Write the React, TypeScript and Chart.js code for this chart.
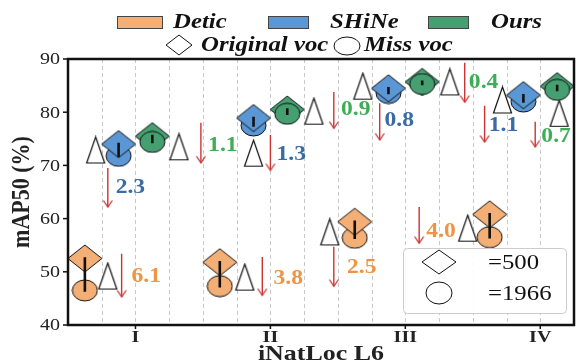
import React, { useEffect, useRef } from 'react';
import { Chart, registerables } from 'chart.js';

Chart.register(...registerables);

// ---------------- data ----------------
const categories = ['I', 'II', 'III', 'IV'];
const categoryPos = [4, 8, 12, 16];
const methods = ['Detic', 'SHiNe', 'Ours'];
const methodOffset = [-1.5, -0.5, 0.5];

// mAP50 with original vocabulary (diamond) and with missing vocabulary (circle)
const deticOriginal = [52.5, 51.8, 59.4, 60.8];
const deticMiss = [46.5, 47.3, 56.4, 56.5];
const shineOriginal = [74.0, 78.9, 84.5, 83.2];
const shineMiss = [71.8, 77.5, 83.6, 82.0];
const oursOriginal = [75.5, 80.5, 85.7, 84.9];
const oursMiss = [74.4, 79.7, 85.3, 84.2];

// drop labels
const deticDrop = ['6.1', '3.8', '2.5', '4.0'];
const shineDrop = ['2.3', '1.3', '0.8', '1.1'];
const oursDrop = ['1.1', '0.9', '0.4', '0.7'];

// triangle markers (x in axis units, y in mAP50)
const deticTriX = [3.18, 7.24, 9.76, 13.85];
const deticTriY = [49.2, 49.0, 57.5, 58.2];
const shineTriX = [2.82, 7.5, 10.74, 14.88];
const shineTriY = [72.9, 72.3, 84.9, 82.3];
const oursTriX = [5.29, 9.29, 13.32, 16.56];
const oursTriY = [73.5, 80.2, 85.7, 79.8];

// red arrows
const deticArrowX = [3.59, 7.76, 9.88, 12.41];
const deticArrowTop = [53.4, 52.8, 54.7, 62.2];
const deticArrowBottom = [45.3, 45.6, 47.3, 55.4];
const shineArrowX = [3.18, 8.0, 11.24, 14.35];
const shineArrowTop = [69.5, 75.7, 81.7, 81.2];
const shineArrowBottom = [62.2, 69.1, 74.8, 74.4];
const oursArrowX = [5.94, 9.88, 13.76, 15.85];
const oursArrowTop = [78.0, 83.8, 89.3, 78.2];
const oursArrowBottom = [70.5, 77.0, 81.9, 73.5];

// drop label anchors
const deticLabelX = [4.32, 8.53, 10.71, 13.06];
const deticLabelY = [49.0, 48.6, 50.7, 57.5];
const shineLabelX = [3.85, 8.62, 11.82, 14.91];
const shineLabelY = [65.8, 72.0, 78.4, 77.4];
const oursLabelX = [6.59, 10.53, 14.32, 16.47];
const oursLabelY = [73.7, 80.4, 85.5, 75.3];

const yTicks = [40, 50, 60, 70, 80, 90];

// ---------------- styles ----------------
const fillColors = ['#F3AF75', '#5B97D4', '#469F71'];
const textColors = ['#EE9442', '#3A6CA3', '#3DAE55'];
const arrowColor = '#CC3333';
const SERIF = '"Liberation Serif", "Times New Roman", serif';
const STRETCH = 1.18;

function makeCanvas(w: number, h: number) {
  const c = document.createElement('canvas');
  c.width = w;
  c.height = h;
  return c;
}

function diamondImg(fill: string) {
  const w = 34, h = 27;
  const c = makeCanvas(w + 2, h + 2);
  const g = c.getContext('2d')!;
  g.beginPath();
  g.moveTo(1 + w / 2, 1);
  g.lineTo(1 + w, 1 + h / 2);
  g.lineTo(1 + w / 2, 1 + h);
  g.lineTo(1, 1 + h / 2);
  g.closePath();
  g.fillStyle = fill;
  g.fill();
  g.strokeStyle = '#111';
  g.lineWidth = 1;
  g.stroke();
  return c;
}

function ellipseImg(fill: string) {
  const w = 25, h = 21;
  const c = makeCanvas(w + 2, h + 2);
  const g = c.getContext('2d')!;
  g.beginPath();
  g.ellipse(1 + w / 2, 1 + h / 2, w / 2, h / 2, 0, 0, Math.PI * 2);
  g.fillStyle = fill;
  g.fill();
  g.strokeStyle = '#111';
  g.lineWidth = 1;
  g.stroke();
  return c;
}

function triangleImg() {
  const w = 18, h = 26;
  const c = makeCanvas(w + 3, h + 3);
  const g = c.getContext('2d')!;
  g.beginPath();
  g.moveTo(1.5 + w / 2, 1.5);
  g.lineTo(1.5 + w, 1.5 + h);
  g.lineTo(1.5, 1.5 + h);
  g.closePath();
  g.fillStyle = '#ffffff';
  g.fill();
  g.strokeStyle = '#111';
  g.lineWidth = 1.2;
  g.stroke();
  return c;
}

function arrowHeadImg() {
  const c = makeCanvas(12, 20);
  const g = c.getContext('2d')!;
  g.beginPath();
  g.moveTo(1.5, 3.5);
  g.lineTo(6, 10);
  g.lineTo(10.5, 3.5);
  g.strokeStyle = arrowColor;
  g.lineWidth = 1.3;
  g.stroke();
  return c;
}

function drawText(
  ctx: CanvasRenderingContext2D,
  s: string,
  x: number,
  y: number,
  font: string,
  color: string,
  align: CanvasTextAlign = 'center',
  rotate = false
) {
  ctx.save();
  ctx.translate(x, y);
  if (rotate) {
    ctx.rotate(-Math.PI / 2);
    ctx.scale(1, STRETCH);
  } else {
    ctx.scale(STRETCH, 1);
  }
  ctx.font = font;
  ctx.fillStyle = color;
  ctx.textAlign = align;
  ctx.textBaseline = 'middle';
  ctx.fillText(s, 0, 0);
  ctx.restore();
}

export default function App() {
  const ref = useRef<HTMLCanvasElement | null>(null);

  useEffect(() => {
    if (!ref.current) return;
    const originals = [deticOriginal, shineOriginal, oursOriginal];
    const misses = [deticMiss, shineMiss, oursMiss];
    const drops = [deticDrop, shineDrop, oursDrop];
    const triX = [deticTriX, shineTriX, oursTriX];
    const triY = [deticTriY, shineTriY, oursTriY];
    const arrX = [deticArrowX, shineArrowX, oursArrowX];
    const arrT = [deticArrowTop, shineArrowTop, oursArrowTop];
    const arrB = [deticArrowBottom, shineArrowBottom, oursArrowBottom];
    const labX = [deticLabelX, shineLabelX, oursLabelX];
    const labY = [deticLabelY, shineLabelY, oursLabelY];

    const tri = triangleImg();
    const head = arrowHeadImg();

    const datasets: any[] = [];

    // connectors between original and missing values (drawn on top)
    const conn: any[] = [];
    methods.forEach((_, m) => {
      categoryPos.forEach((c, i) => {
        const x = c + methodOffset[m];
        conn.push({ x, y: originals[m][i] });
        conn.push({ x, y: misses[m][i] });
        conn.push({ x, y: null });
      });
    });
    datasets.push({
      label: 'connector',
      data: conn,
      showLine: true,
      borderColor: '#111',
      borderWidth: 2.6,
      borderCapStyle: 'square',
      pointRadius: 0,
      spanGaps: false,
      order: 0,
    });

    methods.forEach((name, m) => {
      const diam = categoryPos.map((c, i) => ({ x: c + methodOffset[m], y: originals[m][i] }));
      const circ = categoryPos.map((c, i) => ({ x: c + methodOffset[m], y: misses[m][i] }));
      const circleOnTop = m === 2;
      datasets.push({
        label: name + ' original voc',
        data: diam,
        showLine: false,
        pointStyle: diamondImg(fillColors[m]),
        order: circleOnTop ? 2 : 1,
      });
      datasets.push({
        label: name + ' miss voc',
        data: circ,
        showLine: false,
        pointStyle: ellipseImg(fillColors[m]),
        order: circleOnTop ? 1 : 2,
      });
      datasets.push({
        label: name + ' triangle',
        data: triX[m].map((x, i) => ({ x, y: triY[m][i] })),
        showLine: false,
        pointStyle: tri,
        order: 3,
      });
    });

    const shafts: any[] = [];
    const heads: any[] = [];
    methods.forEach((_, m) => {
      arrX[m].forEach((x, i) => {
        shafts.push({ x, y: arrT[m][i] });
        shafts.push({ x, y: arrB[m][i] });
        shafts.push({ x, y: null });
        heads.push({ x, y: arrB[m][i] });
      });
    });
    datasets.push({
      label: 'arrows',
      data: shafts,
      showLine: true,
      borderColor: arrowColor,
      borderWidth: 1.4,
      pointRadius: 0,
      spanGaps: false,
      order: 4,
    });
    datasets.push({
      label: 'arrow heads',
      data: heads,
      showLine: false,
      pointStyle: head,
      order: 4,
    });

    const decor = {
      id: 'decor',
      beforeDatasetsDraw(chart: any) {
        const { ctx, chartArea: ca, scales } = chart;
        ctx.save();
        ctx.strokeStyle = '#c9c9c9';
        ctx.lineWidth = 1;
        ctx.setLineDash([4, 3]);
        for (let u = 3; u <= 16; u++) {
          const px = Math.round(scales.x.getPixelForValue(u)) + 0.5;
          ctx.beginPath();
          ctx.moveTo(px, ca.top);
          ctx.lineTo(px, ca.bottom);
          ctx.stroke();
        }
        ctx.restore();
      },
      afterDraw(chart: any) {
        const { ctx, chartArea: ca, scales } = chart;
        ctx.save();
        // frame
        ctx.strokeStyle = '#111';
        ctx.lineWidth = 2.5;
        ctx.strokeRect(ca.left, ca.top, ca.right - ca.left, ca.bottom - ca.top);
        // y ticks
        ctx.lineWidth = 1.5;
        yTicks.forEach((v) => {
          const py = scales.y.getPixelForValue(v);
          ctx.beginPath();
          ctx.moveTo(ca.left - 5, py);
          ctx.lineTo(ca.left, py);
          ctx.stroke();
          drawText(ctx, String(v), ca.left - 8, py + 1, `17px ${SERIF}`, '#222', 'right');
        });
        // x ticks
        categoryPos.forEach((c, i) => {
          const px = scales.x.getPixelForValue(c);
          ctx.beginPath();
          ctx.moveTo(px, ca.bottom);
          ctx.lineTo(px, ca.bottom + 4);
          ctx.stroke();
          drawText(ctx, categories[i], px, ca.bottom + 13, `bold 17px ${SERIF}`, '#222');
        });
        // axis titles
        drawText(ctx, 'iNatLoc L6', (ca.left + ca.right) / 2, ca.bottom + 29, `bold 22px ${SERIF}`, '#222');
        drawText(ctx, 'mAP50 (%)', 22, (ca.top + ca.bottom) / 2, `bold 22px ${SERIF}`, '#222', 'center', true);

        // drop labels
        methods.forEach((_, m) => {
          drops[m].forEach((s, i) => {
            drawText(
              ctx,
              s,
              scales.x.getPixelForValue(labX[m][i]),
              scales.y.getPixelForValue(labY[m][i]),
              `bold 20px ${SERIF}`,
              textColors[m]
            );
          });
        });

        // top legend
        const boxes = [
          [117, 45],
          [268, 40],
          [428, 40],
        ];
        const textX = [173, 330, 491];
        methods.forEach((name, m) => {
          ctx.fillStyle = fillColors[m];
          ctx.fillRect(boxes[m][0], 16, boxes[m][1], 12);
          ctx.strokeStyle = '#444';
          ctx.lineWidth = 1;
          ctx.strokeRect(boxes[m][0] + 0.5, 16.5, boxes[m][1], 12);
          drawText(ctx, name, textX[m], 23, `italic bold 21px ${SERIF}`, '#111', 'left');
        });
        ctx.strokeStyle = '#111';
        ctx.lineWidth = 1;
        ctx.beginPath();
        ctx.moveTo(179, 35);
        ctx.lineTo(192, 45);
        ctx.lineTo(179, 55);
        ctx.lineTo(166, 45);
        ctx.closePath();
        ctx.stroke();
        drawText(ctx, 'Original voc', 201, 46, `italic bold 21px ${SERIF}`, '#111', 'left');
        ctx.beginPath();
        ctx.ellipse(347, 46, 13, 9, 0, 0, Math.PI * 2);
        ctx.stroke();
        drawText(ctx, 'Miss voc', 364, 46, `italic bold 21px ${SERIF}`, '#111', 'left');

        // size legend box
        ctx.fillStyle = 'rgba(255,255,255,0.9)';
        ctx.strokeStyle = '#cccccc';
        ctx.lineWidth = 1;
        ctx.beginPath();
        ctx.roundRect(403.5, 248.5, 163, 65, 4);
        ctx.fill();
        ctx.stroke();
        ctx.strokeStyle = '#111';
        ctx.beginPath();
        ctx.moveTo(439, 250);
        ctx.lineTo(456, 262);
        ctx.lineTo(439, 274);
        ctx.lineTo(422, 262);
        ctx.closePath();
        ctx.stroke();
        drawText(ctx, '=500', 488, 263, `21px ${SERIF}`, '#111', 'left');
        ctx.beginPath();
        ctx.ellipse(439, 293, 13, 11, 0, 0, Math.PI * 2);
        ctx.stroke();
        drawText(ctx, '=1966', 488, 294, `21px ${SERIF}`, '#111', 'left');
        ctx.restore();
      },
    };

    const chart = new Chart(ref.current, {
      type: 'line',
      data: { datasets },
      options: {
        animation: false,
        responsive: true,
        maintainAspectRatio: false,
        events: [],
        layout: { padding: { left: 68, right: 1, top: 59, bottom: 39 } },
        plugins: { legend: { display: false }, tooltip: { enabled: false } },
        scales: {
          x: { type: 'linear', min: 2, max: 17, display: false },
          y: { type: 'linear', min: 40, max: 90, display: false },
        },
      },
      plugins: [decor],
    } as any);
    return () => chart.destroy();
  }, []);

  return (
    <div style={{ position: 'fixed', left: 0, top: 0, width: 579, height: 364, background: '#fff' }}>
      <canvas ref={ref} />
    </div>
  );
}
